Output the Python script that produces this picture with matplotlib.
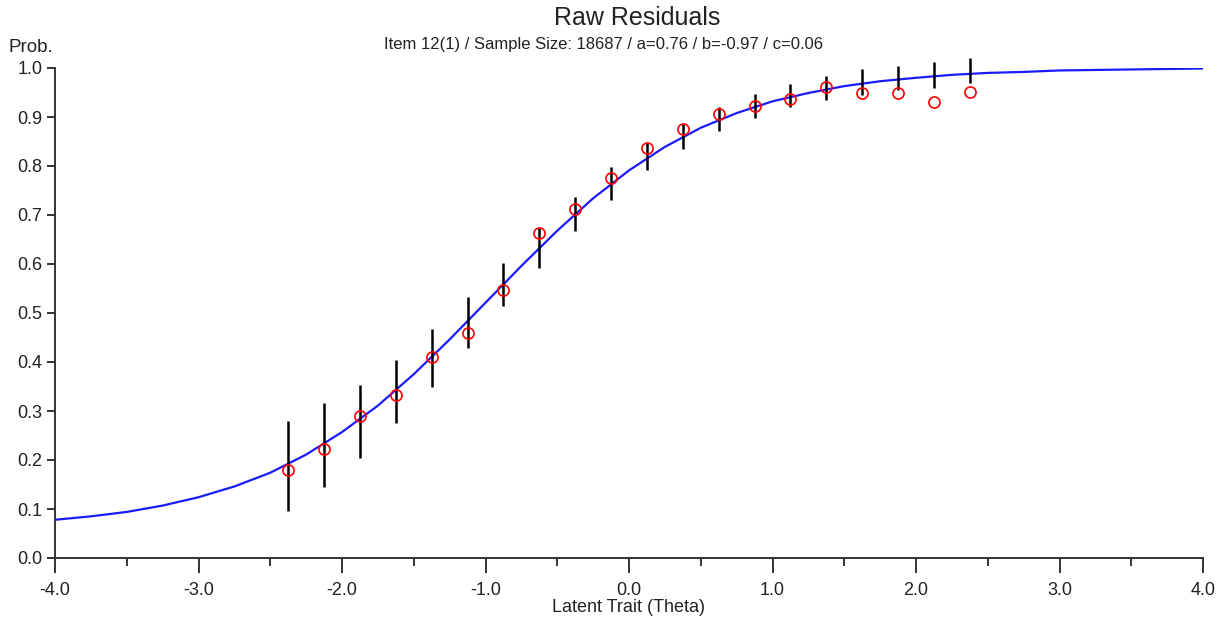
import matplotlib.pyplot as plt
from matplotlib.ticker import MultipleLocator, FormatStrFormatter

plt.rcParams['font.family'] = ['Liberation Sans', 'DejaVu Sans']
plt.rcParams['axes.unicode_minus'] = False

# model curve (every 0.25)
curve_theta = [-4.0, -3.75, -3.5, -3.25, -3.0, -2.75, -2.5, -2.25, -2.0, -1.75, -1.5,
               -1.25, -1.0, -0.75, -0.5, -0.25, 0.0, 0.25, 0.5, 0.75, 1.0, 1.25,
               1.5, 1.75, 2.0, 2.25, 2.5, 2.75, 3.0, 3.25, 3.5, 3.75, 4.0]
curve_prob = [0.078, 0.085, 0.094, 0.107, 0.124, 0.146, 0.174, 0.211, 0.257, 0.311, 0.375,
              0.446, 0.521, 0.596, 0.668, 0.734, 0.791, 0.839, 0.878, 0.908, 0.932, 0.949,
              0.963, 0.973, 0.980, 0.986, 0.990, 0.992, 0.995, 0.996, 0.997, 0.998, 0.999]

# observed points
obs_theta = [-2.375, -2.125, -1.875, -1.625, -1.375, -1.125, -0.875, -0.625, -0.375, -0.125,
             0.125, 0.375, 0.625, 0.875, 1.125, 1.375, 1.625, 1.875, 2.125, 2.375]
obs_prob = [0.180, 0.222, 0.290, 0.333, 0.410, 0.460, 0.546, 0.663, 0.712, 0.776,
            0.836, 0.876, 0.906, 0.923, 0.936, 0.962, 0.950, 0.950, 0.931, 0.952]
err_lo = [0.095, 0.144, 0.205, 0.275, 0.348, 0.428, 0.515, 0.591, 0.668, 0.731,
          0.792, 0.834, 0.871, 0.897, 0.921, 0.935, 0.945, 0.955, 0.959, 0.969]
err_hi = [0.280, 0.317, 0.354, 0.404, 0.467, 0.533, 0.603, 0.673, 0.737, 0.797,
          0.846, 0.886, 0.920, 0.947, 0.967, 0.984, 0.997, 1.004, 1.013, 1.020]

fig = plt.figure(figsize=(12.28, 6.22), dpi=100)
ax = fig.add_axes([55 / 1228, 1 - 558 / 622, (1203 - 55) / 1228, (558 - 68) / 622])

ax.plot(curve_theta, curve_prob, color='#1a1aff', lw=1.6, zorder=2)
ax.vlines(obs_theta, err_lo, err_hi, color='black', lw=1.8, zorder=3, clip_on=False)
ax.plot(obs_theta, obs_prob, 'o', mfc='none', mec='red', mew=1.2, ms=8, zorder=4, clip_on=False)

ax.set_xlim(-4, 4)
ax.set_ylim(0, 1)
ax.xaxis.set_major_locator(MultipleLocator(1.0))
ax.xaxis.set_minor_locator(MultipleLocator(0.5))
ax.yaxis.set_major_locator(MultipleLocator(0.1))
ax.xaxis.set_major_formatter(FormatStrFormatter('%.1f'))
ax.yaxis.set_major_formatter(FormatStrFormatter('%.1f'))

for side in ['top', 'right']:
    ax.spines[side].set_visible(False)
for side in ['left', 'bottom']:
    ax.spines[side].set_linewidth(1.4)
    ax.spines[side].set_color('#333333')

ax.tick_params(axis='x', which='major', length=11, width=1.4, pad=6, labelsize=13, colors='#333333')
ax.tick_params(axis='x', which='minor', length=6, width=1.4, colors='#333333')
ax.tick_params(axis='y', which='major', length=6, width=1.4, pad=3, labelsize=13, colors='#333333')
for lab in ax.get_xticklabels() + ax.get_yticklabels():
    lab.set_color('#222222')

ax.set_xlabel('Latent Trait (Theta)', fontsize=13, color='#222222', labelpad=0)
fig.text(8 / 1228, 1 - 48 / 622, 'Prob.', fontsize=13.5, color='#222222', ha='left', va='center')

fig.text(637 / 1228, 1 - 18 / 622, 'Raw Residuals', fontsize=18, color='#222222', ha='center', va='center')
fig.text(604 / 1228, 1 - 44 / 622, 'Item 12(1) / Sample Size: 18687 / a=0.76 / b=-0.97 / c=0.06',
         fontsize=12, color='#222222', ha='center', va='center')

fig.savefig('out.png', dpi=100)
